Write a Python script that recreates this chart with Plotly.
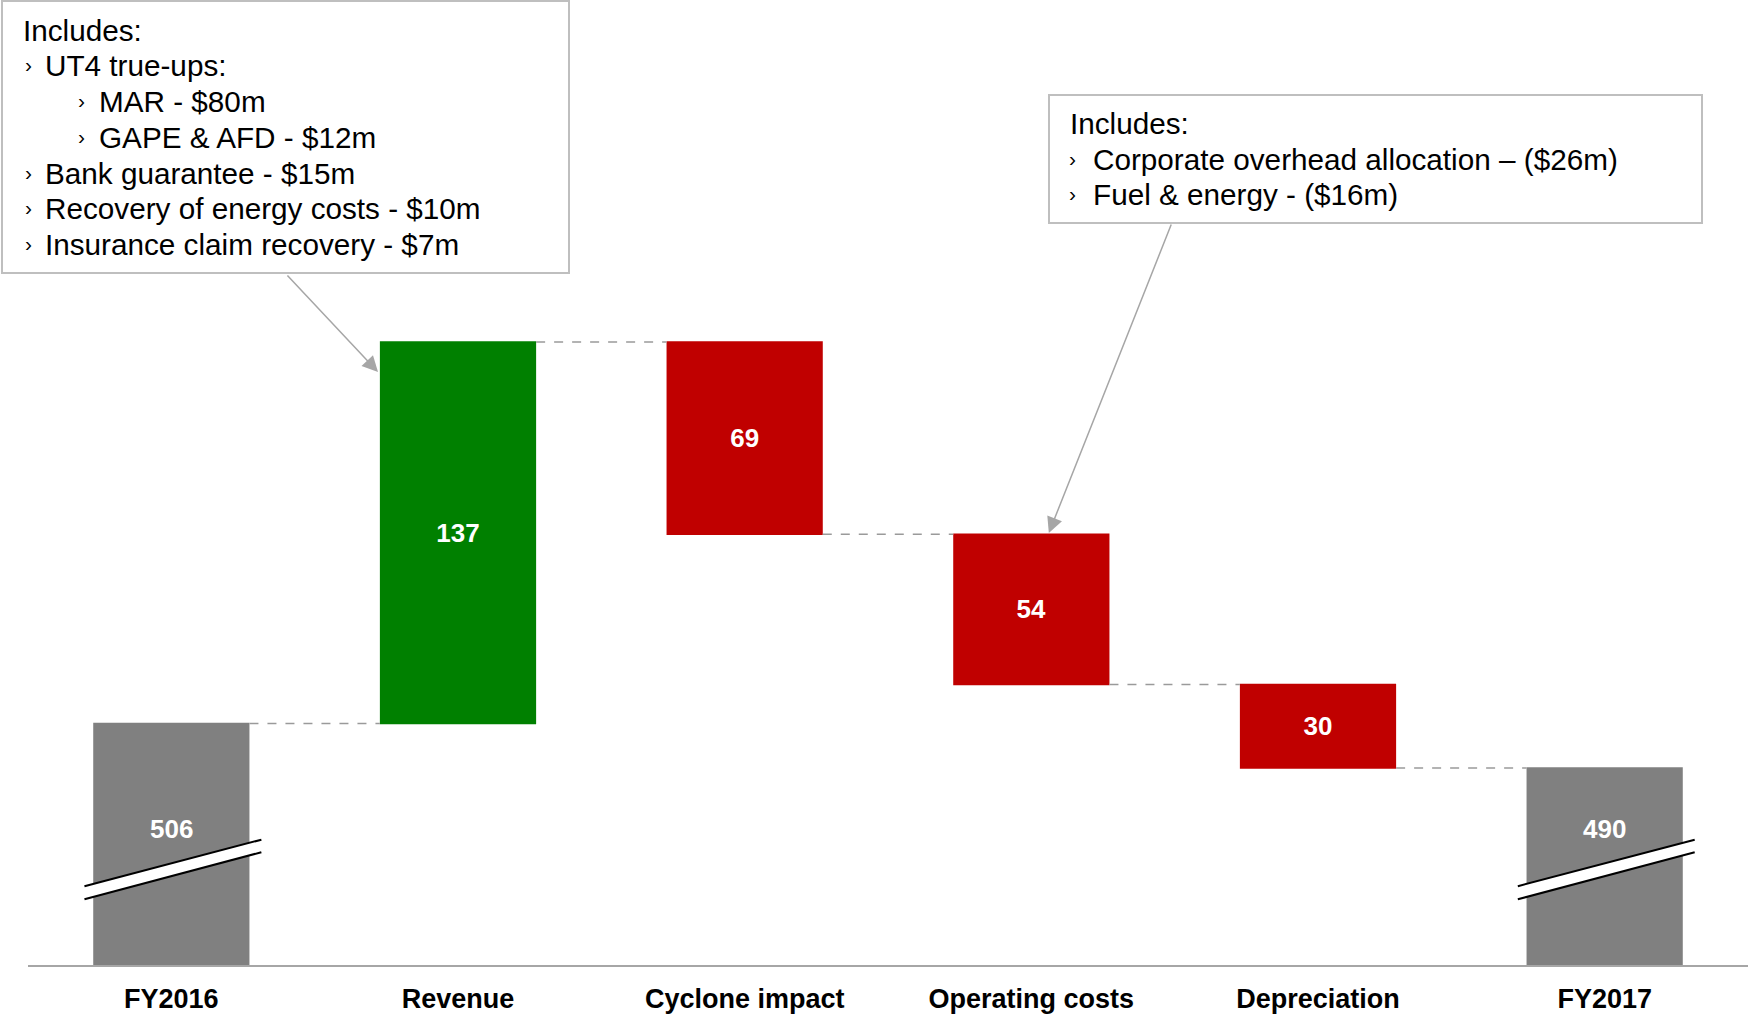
import plotly.graph_objects as go

# ---------------- data ----------------
categories = ["FY2016", "Revenue", "Cyclone impact", "Operating costs", "Depreciation", "FY2017"]
values = [506, 137, -69, -54, -30, 490]
measures = ["absolute", "relative", "relative", "relative", "relative", "total"]
bar_labels = ["506", "137", "69", "54", "30", "490"]

box1_lines = [
    ("Includes:", 0),
    ("UT4 true-ups:", 1),
    ("MAR - $80m", 2),
    ("GAPE & AFD - $12m", 2),
    ("Bank guarantee - $15m", 1),
    ("Recovery of energy costs - $10m", 1),
    ("Insurance claim recovery - $7m", 1),
]
box2_lines = [
    ("Includes:", 0),
    ("Corporate overhead allocation \u2013 ($26m)", 1),
    ("Fuel & energy - ($16m)", 1),
]

# ---------------- styling ----------------
FONT = "Liberation Sans, Arial, sans-serif"
W, H = 1748, 1014
ML, MR, MT, MB = 28, 0, 0, 49
PW, PH = W - ML - MR, H - MT - MB
Y_MIN, Y_MAX = 419.3, 765.8
BAR_W = 0.545
GREY, GREEN, RED = "#808080", "#008000", "#C00000"


def px(x):
    return (x - ML) / PW


def py(y):
    return 1 - (y - MT) / PH


inside_text = [lbl if m == "relative" else "" for lbl, m in zip(bar_labels, measures)]

fig = go.Figure()
fig.add_trace(go.Waterfall(
    x=categories,
    y=values,
    measure=measures,
    width=BAR_W,
    text=inside_text,
    textposition="inside",
    insidetextanchor="middle",
    textfont=dict(family=FONT, size=26, color="white", weight="bold"),
    increasing=dict(marker=dict(color=GREEN, line=dict(width=0))),
    decreasing=dict(marker=dict(color=RED, line=dict(width=0))),
    totals=dict(marker=dict(color=GREY, line=dict(width=0))),
    connector=dict(mode="between", line=dict(color="#9a9a9a", width=1.5, dash="dash")),
    hoverinfo="skip",
    cliponaxis=True,
))

annotations = []
shapes = []

# labels on the broken (absolute / total) bars
LABEL_Y = 468.1
for i, (lbl, m) in enumerate(zip(bar_labels, measures)):
    if m != "relative":
        annotations.append(dict(x=i, y=LABEL_Y, xref="x", yref="y", text=lbl, showarrow=False,
                                font=dict(family=FONT, size=26, color="white", weight="bold")))
        # axis-break marks
        x0, x1 = i - 0.303, i + 0.314
        shapes.append(dict(type="path", xref="x", yref="y",
                           path=f"M{x0},442.9 L{x1},459.8 L{x1},464.3 L{x0},447.6 Z",
                           fillcolor="white", line=dict(width=0)))
        shapes.append(dict(type="line", xref="x", yref="y", x0=x0, y0=447.6, x1=x1, y1=464.3,
                           line=dict(color="black", width=2)))
        shapes.append(dict(type="line", xref="x", yref="y", x0=x0, y0=442.9, x1=x1, y1=459.8,
                           line=dict(color="black", width=2)))

# callout boxes
BOX_LINE = dict(color="#BFBFBF", width=2)
shapes.append(dict(type="rect", xref="paper", yref="paper", x0=px(2), x1=px(569), y0=py(1), y1=py(273),
                   line=BOX_LINE, fillcolor="white", layer="above"))
shapes.append(dict(type="rect", xref="paper", yref="paper", x0=px(1049), x1=px(1702), y0=py(95), y1=py(223),
                   line=BOX_LINE, fillcolor="white", layer="above"))

TXT = dict(family=FONT, size=29.7, color="black")
BUL = dict(family=FONT, size=21, color="black")


def add_lines(lines, x_text0, x_bul1, x_text1, x_bul2, x_text2, y0, dy):
    for k, (t, lvl) in enumerate(lines):
        yy = y0 + dy * k
        if lvl == 0:
            annotations.append(dict(x=px(x_text0), y=py(yy), xref="paper", yref="paper", text=t,
                                    xanchor="left", yanchor="middle", showarrow=False, font=TXT))
        else:
            xb = x_bul1 if lvl == 1 else x_bul2
            xt = x_text1 if lvl == 1 else x_text2
            annotations.append(dict(x=px(xb), y=py(yy - 1), xref="paper", yref="paper", text="\u203a",
                                    xanchor="left", yanchor="middle", showarrow=False, font=BUL))
            annotations.append(dict(x=px(xt), y=py(yy), xref="paper", yref="paper", text=t,
                                    xanchor="left", yanchor="middle", showarrow=False, font=TXT))


add_lines(box1_lines, 21, 23, 43, 76, 97, 30.2, 35.7)
add_lines(box2_lines, 1068, 1067, 1091, 0, 0, 123.5, 35.7)

# arrows
ARROW = dict(showarrow=True, arrowhead=2, arrowsize=2.1, arrowwidth=1.5, arrowcolor="#A6A6A6",
             standoff=0, text="", xref="x", yref="y", axref="pixel", ayref="pixel")
annotations.append(dict(x=0.721, y=632.2, ax=-92, ay=-98, **ARROW))
annotations.append(dict(x=3.061, y=574.4, ax=123, ay=-310, **ARROW))

fig.update_layout(
    width=W, height=H,
    margin=dict(l=ML, r=MR, t=MT, b=MB, pad=0, autoexpand=False),
    paper_bgcolor="white", plot_bgcolor="white",
    showlegend=False,
    font=dict(family=FONT, color="black"),
    xaxis=dict(type="category", range=[-0.5, 5.5], showgrid=False, zeroline=False, automargin=False,
               showline=True, linecolor="#A6A6A6", linewidth=2, ticks="",
               tickfont=dict(family=FONT, size=27, color="black", weight="bold"),
               ticklabelstandoff=9, fixedrange=True),
    yaxis=dict(range=[Y_MIN, Y_MAX], visible=False, showgrid=False, zeroline=False, fixedrange=True,
               automargin=False),
    shapes=shapes,
    annotations=annotations,
)

fig.write_html("out.html", config={"displayModeBar": False},
               post_script="document.body.style.margin='0';document.body.style.overflow='hidden';")
